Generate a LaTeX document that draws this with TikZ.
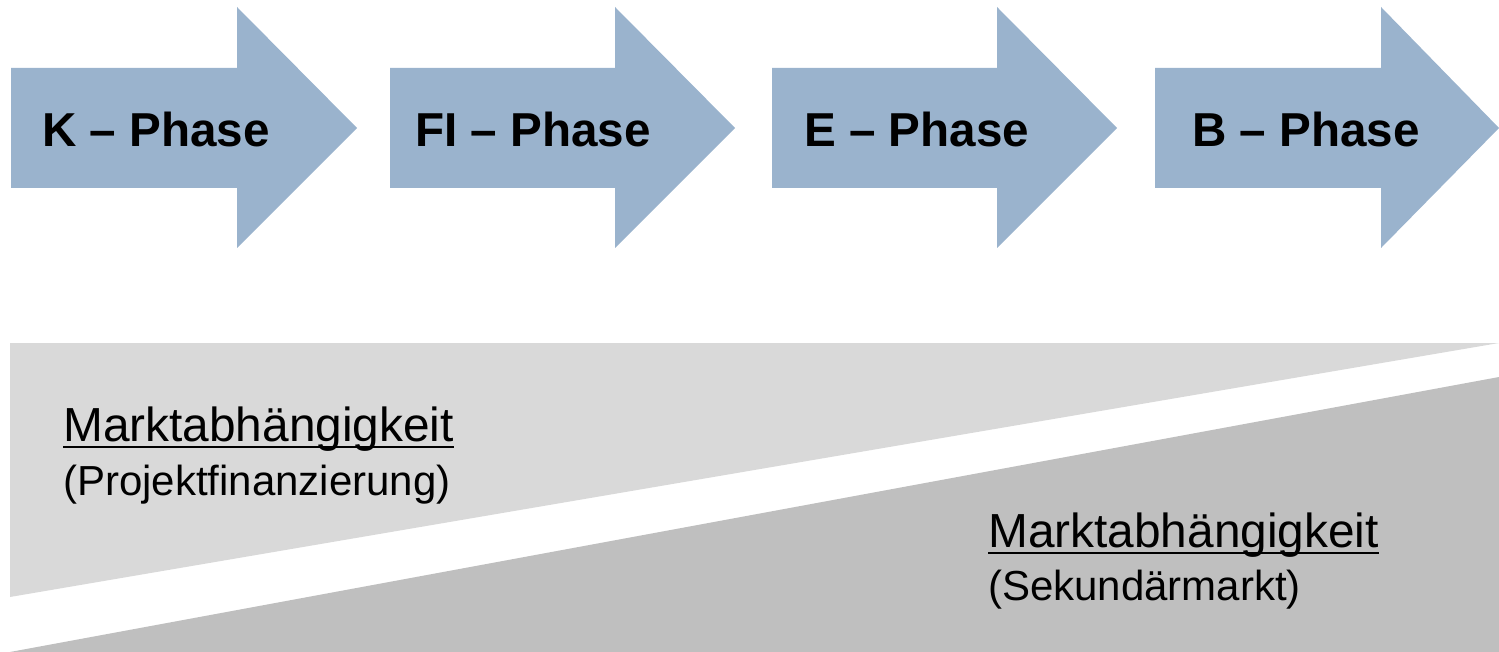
\documentclass[tikz,border=0pt]{standalone}
\usepackage{fontspec}
\setmainfont{Liberation Sans}
\definecolor{phaseblue}{HTML}{9AB3CD}
\definecolor{lightband}{HTML}{D9D9D9}
\definecolor{darkband}{HTML}{BFBFBF}
\newsavebox{\ulbox}
% underline placed just below the baseline, crossing the descenders
\newcommand{\ulword}[1]{\sbox{\ulbox}{#1}\rlap{\rule[-6.5pt]{\wd\ulbox}{2pt}}\usebox{\ulbox}}
\tikzset{
  phasearrow/.style={fill=phaseblue, draw=none},
  phasetext/.style={anchor=base west, inner sep=0pt, font=\fontsize{47.6}{56}\selectfont\bfseries},
  headtext/.style={anchor=base west, inner sep=0pt, font=\fontsize{47.8}{56}\selectfont},
  subtext/.style={anchor=base west, inner sep=0pt, font=\fontsize{42}{50}\selectfont}
}
\begin{document}
\begin{tikzpicture}[x=1pt,y=-1pt]
\useasboundingbox (0,0) rectangle (1499,652);
% the four phase arrows: body left edge, head base, tip
\foreach \xa/\xb/\xc in {11/237/357, 390/615/735, 772/997/1117, 1155/1381/1499}{
  \fill[phasearrow] (\xa,68) -- (\xb,68) -- (\xb,7) -- (\xc,128) -- (\xb,248) -- (\xb,188) -- (\xa,188) -- cycle;
}
\node[phasetext] (k)  at (42,147)   {K – Phase};
\node[phasetext] (fi) at (415,147)  {FI – Phase};
\node[phasetext] (e)  at (804,147)  {E – Phase};
\node[phasetext] (b)  at (1192,147) {B – Phase};
% the two wedge bands
\fill[lightband] (10,343) -- (1499,343) -- (10,597) -- cycle;
\fill[darkband] (1499,377) -- (1499,652) -- (10,652) -- cycle;
% labels on the bands
\node[headtext] (m1) at (63,441) {\ulword{Marktabhängigkeit}};
\node[subtext]  (p1) at (63,495) {(Projektfinanzierung)};
\node[headtext] (m2) at (988,547) {\ulword{Marktabhängigkeit}};
\node[subtext]  (p2) at (988,600) {(Sekundärmarkt)};
\end{tikzpicture}
\end{document}
